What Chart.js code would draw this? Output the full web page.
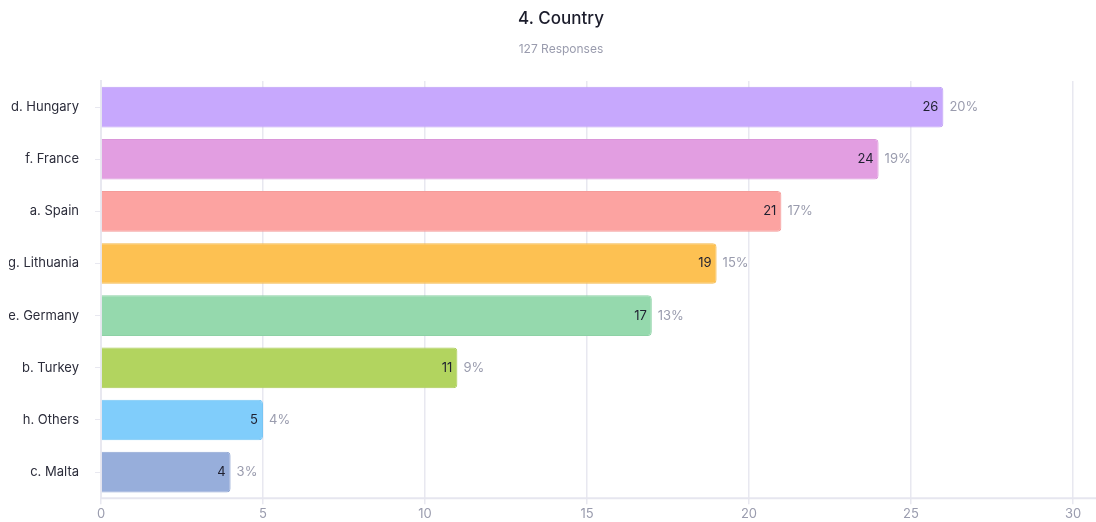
<!DOCTYPE html>
<html>
<head>
<meta charset="utf-8">
<script src="https://cdn.jsdelivr.net/npm/chart.js@4/dist/chart.umd.min.js"></script>
<style>
    html, body { margin: 0; padding: 0; background: #fff; }
    #wrap { width: 1096px; height: 522px; }
</style>
</head>
<body>
<div id="wrap"><canvas id="countryChart"></canvas></div>
<script>
    'use strict';

    var chartTitle = '4. Country';
    var countries = ['d. Hungary', 'f. France', 'a. Spain', 'g. Lithuania', 'e. Germany', 'b. Turkey', 'h. Others', 'c. Malta'];
    var responses = [26, 24, 21, 19, 17, 11, 5, 4];
    var totalResponses = 127;
    var barColors = ['#c7a8fd', '#e29ee1', '#fca3a1', '#fdc152', '#95d9ad', '#b2d45f', '#80cdfb', '#97aedb'];
    var barBorders = ['#bfa0f5', '#da96d9', '#f49b99', '#f5b94a', '#8dd1a5', '#aacc57', '#78c5f3', '#8fa6d3'];
    var xTicks = [0, 5, 10, 15, 20, 25, 30];

    var fontFamily = 'Inter, "Noto Sans", sans-serif';

    // heading + response count, a bit right of the canvas middle
    var heading = {
        id: 'heading',
        afterDraw: function (chart) {
            var ctx = chart.ctx;
            var cx = chart.width / 2 + 13;
            ctx.save();
            ctx.textAlign = 'center';
            ctx.textBaseline = 'middle';
            ctx.fillStyle = '#1b1c2b';
            ctx.font = '500 17px ' + fontFamily;
            ctx.fillText(chartTitle, cx, 19);
            ctx.fillStyle = '#9a9cae';
            ctx.font = '12px ' + fontFamily;
            ctx.fillText(totalResponses + ' Responses', cx, 49);
            ctx.restore();
        }
    };

    // value inside the bar end, share of total just outside it
    var barLabels = {
        id: 'barLabels',
        afterDatasetsDraw: function (chart) {
            var ctx = chart.ctx;
            var meta = chart.getDatasetMeta(0);
            ctx.save();
            ctx.font = '13px ' + fontFamily;
            ctx.textBaseline = 'middle';
            meta.data.forEach(function (bar, i) {
                var value = responses[i];
                ctx.fillStyle = '#1f2030';
                ctx.textAlign = 'right';
                ctx.fillText(String(value), bar.x - 5, bar.y);
                ctx.fillStyle = '#9a9cae';
                ctx.textAlign = 'left';
                ctx.fillText(Math.round(value / totalResponses * 100) + '%', bar.x + 6, bar.y);
            });
            ctx.restore();
        }
    };

    // bottom axis line runs on to the edge of the canvas
    var baseLine = {
        id: 'baseLine',
        beforeDatasetsDraw: function (chart) {
            var ctx = chart.ctx;
            var area = chart.chartArea;
            ctx.save();
            ctx.strokeStyle = '#e6e6ef';
            ctx.lineWidth = 2;
            ctx.beginPath();
            ctx.moveTo(area.left, area.bottom);
            ctx.lineTo(chart.width, area.bottom);
            ctx.stroke();
            ctx.restore();
        }
    };

    var ctx = document.getElementById('countryChart').getContext('2d');
    new Chart(ctx, {
        type: 'bar',
        data: {
            labels: countries,
            datasets: [{
                label: 'Responses',
                data: responses,
                backgroundColor: barColors,
                borderColor: barBorders,
                borderWidth: 1,
                borderRadius: 4,
                borderSkipped: 'left',
                categoryPercentage: 0.78,
                barPercentage: 1
            }]
        },
        options: {
            indexAxis: 'y',
            responsive: true,
            maintainAspectRatio: false,
            animation: false,
            layout: { padding: { left: 9, right: 23, top: 81, bottom: 0 } },
            plugins: {
                legend: { display: false },
                tooltip: { enabled: false },
                title: { display: false }
            },
            scales: {
                x: {
                    min: 0,
                    max: 30,
                    afterBuildTicks: function (axis) {
                        axis.ticks = xTicks.map(function (v) { return { value: v }; });
                    },
                    afterFit: function (axis) {
                        axis.height = 21;
                    },
                    grid: {
                        color: '#e8e8f0',
                        lineWidth: 1.5,
                        tickLength: 6,
                        drawTicks: true
                    },
                    border: { display: false },
                    ticks: {
                        color: '#9a9cae',
                        font: { family: fontFamily, size: 13 },
                        padding: 2
                    }
                },
                y: {
                    afterFit: function (axis) {
                        axis.width = 92;
                    },
                    grid: {
                        drawOnChartArea: false,
                        offset: false,
                        color: '#e8e8f0',
                        tickLength: 6
                    },
                    border: { color: '#e8e8f0', width: 2 },
                    ticks: {
                        color: '#2b2c3a',
                        font: { family: fontFamily, size: 13 },
                        padding: 16
                    }
                }
            }
        },
        plugins: [baseLine, barLabels, heading]
    });
</script>
</body>
</html>
